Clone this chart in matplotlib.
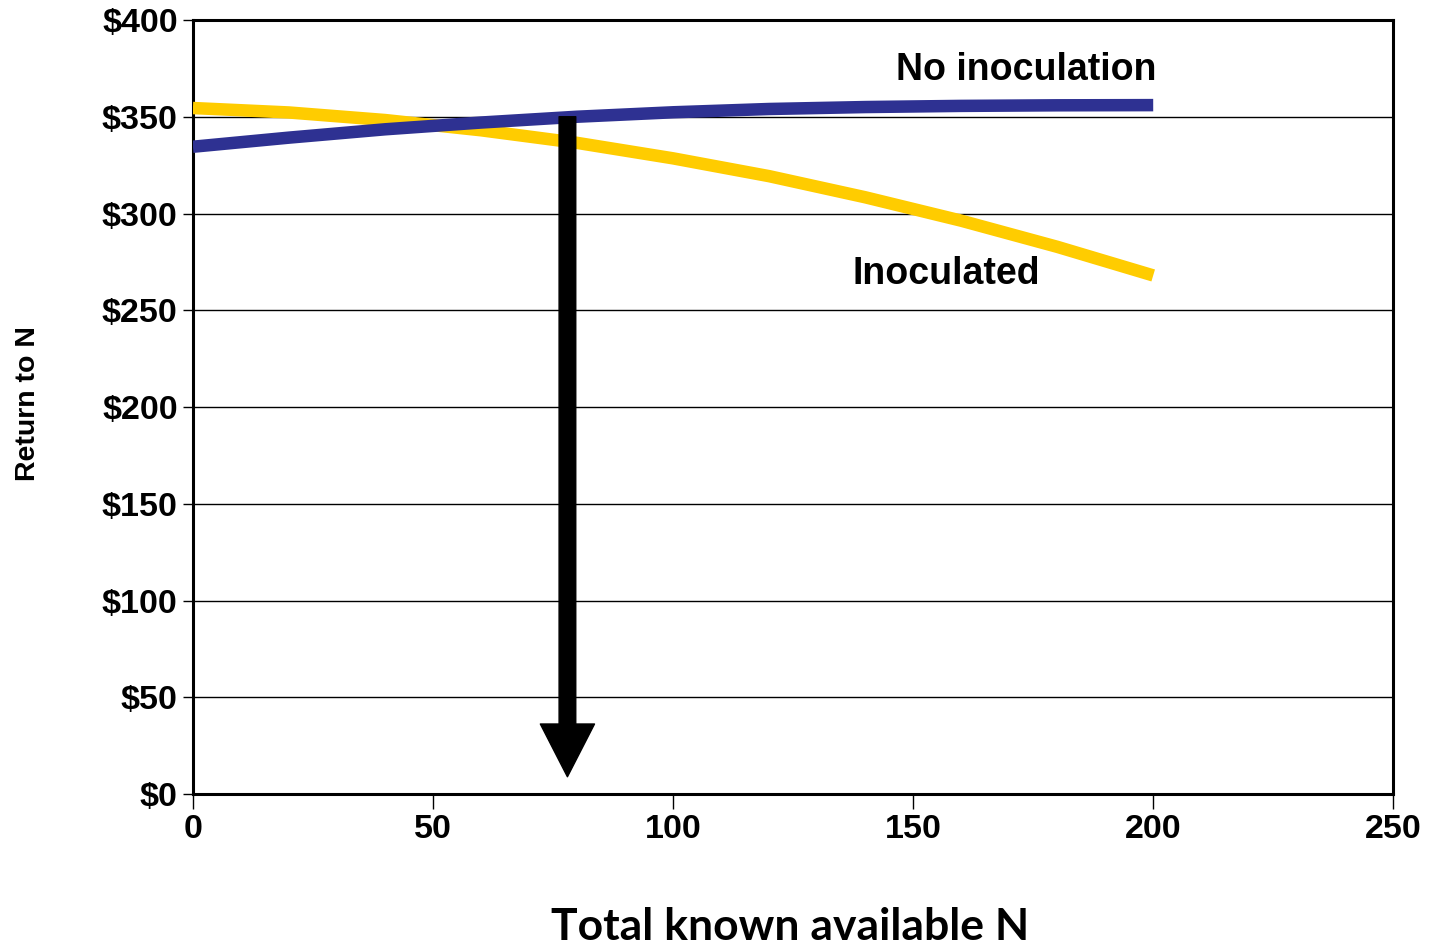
import matplotlib
matplotlib.use("Agg")
import matplotlib.pyplot as plt

# values
n_avail = [0, 20, 40, 60, 80, 100, 120, 140, 160, 180, 200]
no_inoc = [334.5, 339.2, 343.5, 347, 350, 352.3, 354, 355, 355.6, 355.9, 356]
inoc = [354.5, 352.2, 348.3, 343, 336.5, 328.5, 319.3, 308.4, 296.3, 282.8, 268]
y_ticks = [0, 50, 100, 150, 200, 250, 300, 350, 400]
y_labels = ["$" + str(v) for v in y_ticks]
x_ticks = [0, 50, 100, 150, 200, 250]
arrow_x = 78

plt.rcParams["font.family"] = ["Liberation Sans", "DejaVu Sans"]
plt.rcParams["font.weight"] = "bold"

fig = plt.figure(figsize=(14.29, 9.5), dpi=100)
ax = fig.add_axes([0.135, 0.164, 0.84, 0.815])

ax.set_xlim(0, 250)
ax.set_ylim(0, 400)
ax.set_yticks(y_ticks)
ax.set_yticklabels(y_labels)
ax.set_xticks(x_ticks)
ax.tick_params(axis="y", direction="out", length=7, width=1, labelsize=24.5, pad=4)
ax.tick_params(axis="x", direction="out", length=11, width=1, labelsize=24.5, pad=3)
for lab in ax.get_xticklabels() + ax.get_yticklabels():
    lab.set_fontweight("bold")

for s in ax.spines.values():
    s.set_linewidth(2.2)

ax.grid(axis="y", color="black", linewidth=1)
ax.set_axisbelow(True)

ax.plot(n_avail, inoc, color="#FFCC00", linewidth=9, solid_capstyle="butt", zorder=3)
ax.plot(n_avail, no_inoc, color="#2E3192", linewidth=9, solid_capstyle="butt", zorder=4)

ax.annotate("", xy=(arrow_x, 9), xytext=(arrow_x, 350),
            arrowprops=dict(arrowstyle="simple,head_width=39,head_length=38,tail_width=12",
                            mutation_scale=1, color="black", shrinkA=0, shrinkB=0),
            zorder=5)

ax.text(200.7, 374, "No inoculation", ha="right", va="center", fontsize=27, fontweight="bold")
ax.text(157, 269, "Inoculated", ha="center", va="center", fontsize=27, fontweight="bold")

ax.text(-0.1375, 0.505, "Return to N", transform=ax.transAxes, rotation=90,
        ha="center", va="center", fontsize=20.5, fontweight="bold")
ax.text(0.4975, -0.172, "Total known available N", transform=ax.transAxes,
        ha="center", va="center", fontsize=32, fontweight="bold", family="Lato")

fig.savefig("out.png", dpi=100)
